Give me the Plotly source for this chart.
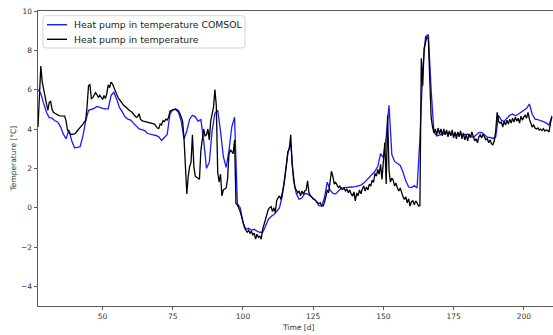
import numpy as np
import plotly.graph_objects as go

# ---------------- data ----------------
series_names = ["Heat pump in temperature COMSOL", "Heat pump in temperature"]

# COMSOL series, one value per day starting at day 27
blue_temp = [
    6.0, 5.8, 5.3, 4.85, 4.58, 4.55, 4.42, 4.36, 4.12, 3.75,
    3.5, 3.95, 3.4, 3.05, 3.07, 3.1, 3.65, 4.42, 4.95, 5.0,
    5.05, 5.15, 5.08, 5.05, 5.02, 5.02, 5.7, 5.87, 5.53, 5.1,
    4.87, 4.62, 4.5, 4.45, 4.3, 4.12, 4.0, 3.97, 3.92, 3.77,
    3.72, 3.7, 3.67, 3.6, 3.42, 3.55, 3.72, 4.75, 4.98, 5.0,
    4.85, 4.4, 3.5, 3.9, 4.5, 4.7, 4.62, 4.4, 4.48, 3.4,
    2.0, 2.3, 3.9, 4.8, 4.95, 3.9, 2.6, 2.05, 2.9, 4.1,
    4.6, 0.2, 0.0, -0.75, -1.1, -1.05, -1.15, -1.1, -1.2, -1.25,
    -1.25, -0.95, -0.6, -0.45, -0.35, -0.2, 0.0, 0.6, 1.6, 2.8,
    3.3, 1.4, 0.7, 0.42, 0.5, 0.72, 0.7, 0.6, 0.45, 0.34,
    0.1, 0.08, 0.5, 1.3, 0.9, 0.72, 0.7, 0.85, 1.0, 1.02,
    1.02, 1.02, 1.05, 1.07, 1.1, 1.15, 1.25, 1.4, 1.55, 1.7,
    1.85, 2.1, 2.75, 2.55, 3.6, 5.2, 2.7, 2.35, 2.25, 2.15,
    1.8, 1.35, 1.05, 1.02, 1.12, 1.0, 3.5, 7.0, 8.7, 8.8,
    6.0, 3.85, 3.65, 3.68, 3.74, 3.78, 3.82, 3.75, 3.7, 3.72,
    3.74, 3.7, 3.72, 3.74, 3.65, 3.57, 3.7, 3.82, 3.83, 3.7,
    3.58, 3.57, 3.52, 3.6, 4.7, 4.45, 4.38, 4.55, 4.7, 4.76,
    4.67, 4.75, 4.85, 4.92, 5.05, 5.27, 4.75, 4.5, 4.48, 4.42,
    4.38, 4.3, 4.2, 4.67,
]

# measured series, two values per day starting at day 27
black_temp = [
    4.1, 5.5, 7.2, 6.4, 6.0, 5.6, 5.2, 4.95, 5.35, 5.4,
    5.0, 4.85, 4.8, 4.75, 4.7, 4.68, 4.67, 4.67, 4.65, 4.66,
    4.4, 3.95, 3.85, 3.75, 3.72, 3.73, 3.75, 3.82, 3.9, 3.97,
    4.05, 4.15, 4.25, 4.35, 4.45, 5.2, 6.2, 6.25, 5.55, 5.6,
    5.7, 5.85, 5.75, 5.6, 5.72, 5.6, 5.5, 5.7, 5.55, 5.8,
    6.25, 6.1, 6.38, 6.3, 6.1, 5.9, 5.75, 5.6, 5.5, 5.38,
    5.28, 5.2, 5.15, 5.1, 5.02, 4.95, 4.9, 4.85, 4.75, 4.65,
    4.6, 4.62, 4.78, 4.5, 4.42, 4.4, 4.38, 4.36, 4.34, 4.33,
    4.32, 4.3, 4.28, 4.25, 4.15, 4.05, 4.03, 4.25, 4.2, 4.42,
    4.38, 4.5, 4.45, 4.6, 4.9, 4.95, 4.97, 5.0, 5.02, 4.98,
    4.93, 4.8, 4.6, 4.4, 3.5, 2.0, 0.7, 1.6, 2.1, 2.3,
    3.7, 2.1, 1.6, 1.55, 1.5, 1.44, 2.9, 3.4, 4.0, 3.65,
    3.7, 4.0, 3.45, 4.4, 4.8, 5.1, 6.0, 5.2, 1.8, 1.3,
    1.7, 0.6, 0.9, 0.95, 1.0, 1.45, 2.7, 2.95, 2.85, 2.75,
    3.45, 0.2, 0.15, 0.0, -0.2, -0.45, -0.8, -1.0, -1.15, -1.25,
    -1.15, -1.3, -1.2, -1.4, -1.3, -1.6, -1.35, -1.5, -1.45, -1.6,
    -1.1, -0.85, -0.55, -0.3, -0.1, 0.0, 0.05, -0.2, 0.0, -0.25,
    0.35, 0.5, 0.6, 0.42, 0.75, 1.1, 1.6, 2.2, 2.85, 3.0,
    3.7, 2.2, 1.5, 1.0, 0.9, 0.75, 0.85, 0.6, 0.85, 0.68,
    0.85, 0.9, 1.36, 0.76, 0.6, 0.55, 0.45, 0.42, 0.34, 0.25,
    0.2, 0.25, 0.1, 0.08, 0.25, 0.55, 0.9, 0.76, 1.4, 1.85,
    1.6, 1.2, 1.28, 1.1, 1.02, 1.1, 0.95, 0.93, 1.0, 0.85,
    0.95, 0.76, 0.9, 0.7, 0.59, 0.8, 0.34, 0.75, 0.6, 0.9,
    0.7, 0.95, 1.1, 0.85, 1.05, 0.9, 1.2, 1.1, 1.4, 1.28,
    1.75, 1.6, 1.95, 1.7, 2.2, 1.44, 2.5, 3.3, 1.2, 4.7,
    1.9, 1.3, 1.5, 1.4, 1.1, 1.25, 1.0, 0.85, 1.0, 0.7,
    0.55, 0.42, 0.55, 0.25, 0.45, 0.08, 0.3, 0.35, 0.15, 0.34,
    0.25, 0.08, 0.1, 7.6, 6.2, 8.1, 8.5, 8.7, 8.6, 6.5,
    4.6, 4.1, 3.8, 4.0, 3.7, 4.05, 3.75, 4.0, 3.65, 4.0,
    3.7, 3.95, 3.6, 3.9, 3.65, 3.95, 3.55, 3.85, 3.5, 3.85,
    3.6, 3.9, 3.5, 3.8, 3.45, 3.7, 3.4, 3.75, 3.55, 3.85,
    3.6, 3.4, 3.5, 3.3, 3.6, 3.7, 3.55, 3.75, 3.6, 3.45,
    3.5, 3.3, 3.45, 3.25, 3.2, 3.4, 3.9, 4.85, 4.4, 4.3,
    4.35, 4.1, 4.4, 4.2, 4.45, 4.25, 4.5, 4.3, 4.55, 4.35,
    4.6, 4.4, 4.55, 4.3, 4.65, 4.45, 4.6, 4.7, 4.55, 4.85,
    4.5, 4.3, 4.1, 4.2, 4.05, 4.0, 4.05, 3.95, 4.0, 3.92,
    4.02, 3.9, 3.95, 3.92, 3.85, 4.3, 4.6,
]

x_ticks = [50, 75, 100, 125, 150, 175, 200]
y_ticks = [-4, -2, 0, 2, 4, 6, 8, 10]

start_day = 27
blue_day = start_day + np.arange(len(blue_temp))
black_day = start_day + 0.5 * np.arange(len(black_temp))

# ---------------- layout geometry ----------------
W, H = 553, 335
L, R, T, B = 38, 0, 11, 29
pw, ph = W - L - R, H - T - B


def px(x):
    return (x - L) / pw


def py(y):
    return (H - B - y) / ph


FONT = "DejaVu Sans"
AXC = "#5a5a5a"
BLUE = "#1a1aff"

fig = go.Figure()
fig.add_trace(go.Scatter(x=blue_day, y=blue_temp, mode="lines", name=series_names[0],
                         line=dict(color=BLUE, width=1.3), showlegend=False))
fig.add_trace(go.Scatter(x=black_day, y=black_temp, mode="lines", name=series_names[1],
                         line=dict(color="black", width=1.3), showlegend=False))

fig.update_layout(
    width=W, height=H, autosize=False,
    margin=dict(l=L, r=R, t=T, b=B, pad=0),
    paper_bgcolor="white", plot_bgcolor="white",
    font=dict(family=FONT, color="#333"),
    xaxis=dict(range=[start_day, 210.4], tickvals=x_ticks, ticks="outside", ticklen=3,
               tickwidth=0.8, tickcolor=AXC, showline=True, linecolor=AXC, linewidth=1,
               mirror=True, showgrid=False, zeroline=False,
               tickfont=dict(size=7.5, color="#333", family=FONT)),
    yaxis=dict(range=[-5, 10], tickvals=y_ticks, ticks="outside", ticklen=3.5,
               tickwidth=0.8, tickcolor=AXC, showline=True, linecolor=AXC, linewidth=1,
               mirror=False, showgrid=False, zeroline=False,
               tickfont=dict(size=7.5, color="#333", family=FONT)),
)

# axis titles
fig.add_annotation(text="Time [d]", xref="paper", yref="paper", x=px(298), y=py(327),
                   xanchor="center", yanchor="middle", showarrow=False,
                   font=dict(size=7.5, color="#333", family=FONT))
fig.add_annotation(text="Temperature [°C]", xref="paper", yref="paper", x=px(13), y=0.5,
                   xanchor="center", yanchor="middle", textangle=-90, showarrow=False,
                   font=dict(size=7.5, color="#333", family=FONT))

# legend box (rounded rectangle)
x0, x1, y0, y1, r = 43, 245, 15.7, 48, 3
path = (f"M {px(x0 + r)} {py(y0)} L {px(x1 - r)} {py(y0)} Q {px(x1)} {py(y0)} {px(x1)} {py(y0 + r)} "
        f"L {px(x1)} {py(y1 - r)} Q {px(x1)} {py(y1)} {px(x1 - r)} {py(y1)} "
        f"L {px(x0 + r)} {py(y1)} Q {px(x0)} {py(y1)} {px(x0)} {py(y1 - r)} "
        f"L {px(x0)} {py(y0 + r)} Q {px(x0)} {py(y0)} {px(x0 + r)} {py(y0)} Z")
fig.add_shape(type="path", path=path, xref="paper", yref="paper",
              line=dict(color="#d4d4d4", width=1), fillcolor="rgba(255,255,255,0.85)")
rows = [24.7, 39.3]
colors = [BLUE, "black"]
for name, yy, c in zip(series_names, rows, colors):
    fig.add_shape(type="line", xref="paper", yref="paper", x0=px(47), x1=px(67),
                  y0=py(yy), y1=py(yy), line=dict(color=c, width=1.4))
    fig.add_annotation(text=name, xref="paper", yref="paper", x=px(72), y=py(yy),
                       xanchor="left", yanchor="middle", showarrow=False,
                       font=dict(size=9.3, color="#222", family=FONT))

fig.write_html("out.html", config={"displayModeBar": False})
